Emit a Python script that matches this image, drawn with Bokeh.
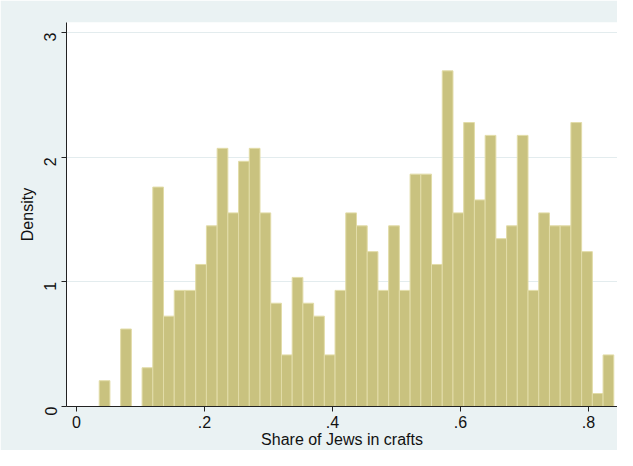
import math
from bokeh.plotting import figure
from bokeh.models import FixedTicker, Range1d, ColumnDataSource
from bokeh.embed import file_html
from bokeh.resources import INLINE

# Histogram data (48 equal-width bins)
bin_lo = 0.0355
bin_hi = 0.8395
density = [
    0.207, 0.0, 0.622, 0.0, 0.311, 1.761, 0.725, 0.932, 0.932, 1.140,
    1.450, 2.072, 1.554, 1.968, 2.072, 1.554, 0.829, 0.414, 1.036, 0.829,
    0.725, 0.414, 0.932, 1.554, 1.450, 1.243, 0.932, 1.450, 0.932, 1.865,
    1.865, 1.140, 2.694, 1.554, 2.279, 1.658, 2.176, 1.347, 1.450, 2.176,
    0.932, 1.554, 1.450, 1.450, 2.279, 1.243, 0.104, 0.414,
]
x_ticks = [0, 0.2, 0.4, 0.6, 0.8]
x_tick_labels = ["0", ".2", ".4", ".6", ".8"]
y_ticks = [0, 1, 2, 3]
x_title = "Share of Jews in crafts"
y_title = "Density"

nb = len(density)
w = (bin_hi - bin_lo) / nb
lefts = [bin_lo + i * w for i in range(nb)]
rights = [bin_lo + (i + 1) * w for i in range(nb)]
keep = [i for i in range(nb) if density[i] > 0]
src = ColumnDataSource(dict(
    left=[lefts[i] for i in keep],
    right=[rights[i] for i in keep],
    top=[density[i] for i in keep],
    bottom=[0.0 for _ in keep],
))

BG = "#EAF2F3"
FONT = "Liberation Sans"

p = figure(width=617, height=450, output_backend="svg", toolbar_location=None,
           x_range=Range1d(-0.0156, 0.8453), y_range=Range1d(0, 3.082),
           min_border_left=66, min_border_right=0, min_border_top=22,
           min_border_bottom=44)
p.border_fill_color = BG
p.background_fill_color = "white"
p.outline_line_color = None

p.quad(left="left", right="right", top="top", bottom="bottom", source=src,
       fill_color="#C9C27F", line_color="#E2DCA8", line_width=1)

p.xgrid.visible = False
p.ygrid.ticker = FixedTicker(ticks=y_ticks)
p.ygrid.grid_line_color = "#E3ECEE"
p.ygrid.grid_line_width = 1

for ax in (p.xaxis[0], p.yaxis[0]):
    ax.axis_line_color = "#222222"
    ax.major_tick_line_color = "#222222"
    ax.major_tick_out = 5
    ax.major_tick_in = 0
    ax.minor_tick_line_color = None
    ax.major_label_text_font = FONT
    ax.major_label_text_font_size = "16px"
    ax.major_label_text_color = "#111111"
    ax.axis_label_text_font = FONT
    ax.axis_label_text_font_size = "16px"
    ax.axis_label_text_font_style = "normal"
    ax.axis_label_text_color = "#111111"

p.xaxis[0].ticker = FixedTicker(ticks=x_ticks)
p.xaxis[0].major_label_overrides = {t: l for t, l in zip(x_ticks, x_tick_labels)}
p.xaxis[0].axis_label = x_title
p.xaxis[0].axis_label_standoff = 0
p.xaxis[0].major_label_standoff = 4

p.yaxis[0].ticker = FixedTicker(ticks=y_ticks)
p.yaxis[0].major_label_orientation = math.pi / 2
p.yaxis[0].axis_label = y_title
p.yaxis[0].axis_label_standoff = 0
p.yaxis[0].major_label_standoff = 11

open("out.html", "w").write(file_html(p, INLINE))
